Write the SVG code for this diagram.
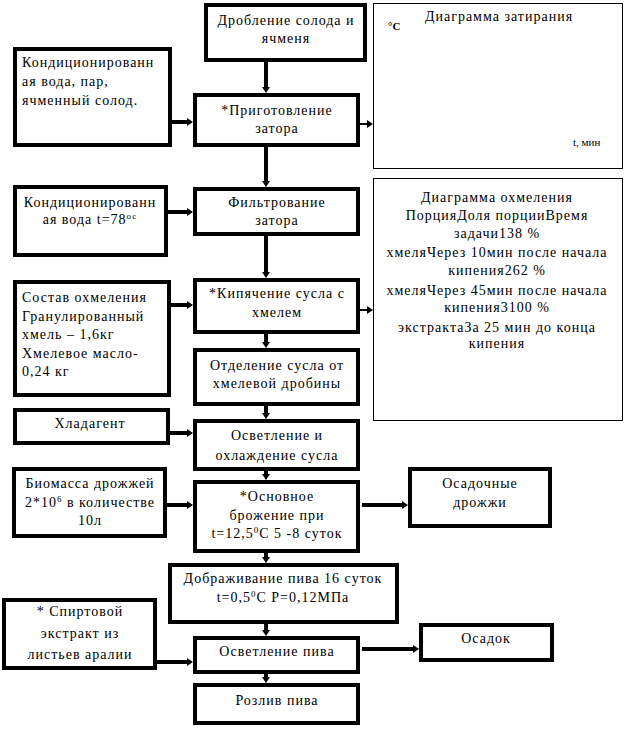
<svg xmlns="http://www.w3.org/2000/svg" width="628" height="734" viewBox="0 0 628 734">
<style>
.b{fill:#fff;stroke:#000;stroke-width:4}
.d{fill:#fff;stroke:#000;stroke-width:1}
text{font-family:"Liberation Serif","Times New Roman",serif;font-size:14px;letter-spacing:1px;fill:#000}
.c{text-anchor:middle}
.sup{font-size:9px}
.c1 line{stroke:#000;stroke-width:4}
.c1 line.t{stroke-width:2}
</style>
<defs>
<marker id="ah" viewBox="0 0 6 8" refX="0" refY="4" markerWidth="6" markerHeight="8" markerUnits="userSpaceOnUse" orient="auto">
<path d="M0,0 L6,4 L0,8 Z" fill="#000"/>
</marker>
</defs>
<rect width="628" height="734" fill="#fff"/>

<g id="connectors" class="c1">
<line x1="266" y1="62" x2="266" y2="87" marker-end="url(#ah)"/>
<line x1="266" y1="147" x2="266" y2="181" marker-end="url(#ah)"/>
<line x1="266" y1="236" x2="266" y2="272" marker-end="url(#ah)"/>
<line x1="266" y1="334" x2="266" y2="342" marker-end="url(#ah)"/>
<line x1="266" y1="406" x2="266" y2="413" marker-end="url(#ah)"/>
<line x1="266" y1="471" x2="266" y2="474" marker-end="url(#ah)"/>
<line x1="266" y1="553" x2="266" y2="557" marker-end="url(#ah)"/>
<line x1="266" y1="624" x2="266" y2="630" marker-end="url(#ah)"/>
<line x1="266" y1="674" x2="266" y2="677" marker-end="url(#ah)"/>
<line x1="172" y1="122" x2="187" y2="122" marker-end="url(#ah)"/>
<line class="t" x1="360" y1="124" x2="367" y2="124" marker-end="url(#ah)"/>
<line x1="168" y1="212" x2="187" y2="212" marker-end="url(#ah)"/>
<line x1="171" y1="305" x2="187" y2="305" marker-end="url(#ah)"/>
<line class="t" x1="360" y1="310" x2="367" y2="310" marker-end="url(#ah)"/>
<line x1="170" y1="433" x2="187" y2="433" marker-end="url(#ah)"/>
<line x1="167" y1="505" x2="187" y2="505" marker-end="url(#ah)"/>
<line x1="362" y1="505" x2="402" y2="505" marker-end="url(#ah)"/>
<line x1="157" y1="662" x2="187" y2="662" marker-end="url(#ah)"/>
<line x1="362" y1="649" x2="413" y2="649" marker-end="url(#ah)"/>
</g>

<g id="n1"><rect class="b" x="206" y="5" width="159" height="55"/>
<text class="c" x="286" y="25">Дробление солода и</text><text class="c" x="286" y="43">ячменя</text></g>

<g id="n2"><rect class="b" x="15" y="49" width="155" height="96"/>
<text x="22" y="67">Кондиционированн</text><text x="22" y="86">ая вода, пар,</text><text x="22" y="105">ячменный солод.</text></g>

<g id="n3"><rect class="b" x="195" y="95" width="163" height="50"/>
<text class="c" x="277" y="115">*Приготовление</text><text class="c" x="277" y="133">затора</text></g>

<g id="d1"><rect class="d" x="373.5" y="3.5" width="249" height="165"/>
<text class="c" x="499" y="21">Диаграмма затирания</text>
<text x="388" y="30" style="font-size:11px;font-weight:bold;letter-spacing:0">°C</text>
<text x="573" y="146" style="font-size:11px;letter-spacing:0">t, мин</text></g>

<g id="n4"><rect class="b" x="15" y="187" width="151" height="68"/>
<text class="c" x="90" y="207">Кондиционированн</text><text class="c" x="90" y="224">ая вода t=78<tspan class="sup" dy="-5">ос</tspan></text></g>

<g id="n5"><rect class="b" x="195" y="189" width="163" height="45"/>
<text class="c" x="277" y="207">Фильтрование</text><text class="c" x="277" y="225">затора</text></g>

<g id="n6"><rect class="b" x="15" y="282" width="154" height="113"/>
<text x="22" y="302">Состав охмеления</text><text x="22" y="321">Гранулированный</text><text x="22" y="339">хмель – 1,6кг</text><text x="22" y="358">Хмелевое масло-</text><text x="22" y="376">0,24 кг</text></g>

<g id="n7"><rect class="b" x="195" y="280" width="163" height="52"/>
<text class="c" x="277" y="298">*Кипячение сусла с</text><text class="c" x="277" y="317">хмелем</text></g>

<g id="n8"><rect class="b" x="195" y="350" width="163" height="54"/>
<text class="c" x="277" y="370">Отделение сусла от</text><text class="c" x="277" y="388">хмелевой дробины</text></g>

<g id="d2"><rect class="d" x="373.5" y="178.5" width="249" height="242"/>
<text class="c" x="497" y="202">Диаграмма охмеления</text>
<text class="c" x="497" y="220">ПорцияДоля порцииВремя</text>
<text class="c" x="497" y="238">задачи138 %</text>
<text class="c" x="497" y="257">хмеляЧерез 10мин после начала</text>
<text class="c" x="497" y="275">кипения262 %</text>
<text class="c" x="497" y="295">хмеляЧерез 45мин после начала</text>
<text class="c" x="497" y="312">кипения3100 %</text>
<text class="c" x="497" y="332">экстрактаЗа 25 мин до конца</text>
<text class="c" x="497" y="348">кипения</text></g>

<g id="n9"><rect class="b" x="15" y="410" width="153" height="33"/>
<text class="c" x="90" y="428">Хладагент</text></g>

<g id="n10"><rect class="b" x="195" y="421" width="163" height="48"/>
<text class="c" x="277" y="440">Осветление и</text><text class="c" x="277" y="460">охлаждение сусла</text></g>

<g id="n11"><rect class="b" x="14" y="469" width="151" height="67"/>
<text class="c" x="90" y="488">Биомасса дрожжей</text><text class="c" x="90" y="507">2*10<tspan class="sup" dy="-5">6</tspan><tspan dy="5"> в количестве</tspan></text><text class="c" x="90" y="525">10л</text></g>

<g id="n12"><rect class="b" x="195" y="482" width="163" height="69"/>
<text class="c" x="277" y="501">*Основное</text><text class="c" x="277" y="520">брожение при</text><text class="c" x="277" y="538">t=12,5<tspan class="sup" dy="-5">0</tspan><tspan dy="5">С 5 -8 суток</tspan></text></g>

<g id="n13"><rect class="b" x="410" y="469" width="140" height="57"/>
<text class="c" x="480" y="488">Осадочные</text><text class="c" x="480" y="507">дрожжи</text></g>

<g id="n14"><rect class="b" x="170" y="565" width="227" height="57"/>
<text class="c" x="283" y="583">Дображивание пива 16 суток</text><text class="c" x="283" y="602">t=0,5<tspan class="sup" dy="-5">0</tspan><tspan dy="5">С Р=0,12МПа</tspan></text></g>

<g id="n15"><rect class="b" x="4" y="600" width="151" height="68"/>
<text class="c" x="80" y="616">* Спиртовой</text><text class="c" x="80" y="638">экстракт из</text><text class="c" x="80" y="659">листьев аралии</text></g>

<g id="n16"><rect class="b" x="195" y="638" width="163" height="34"/>
<text class="c" x="277" y="656">Осветление пива</text></g>

<g id="n17"><rect class="b" x="421" y="625" width="131" height="35"/>
<text class="c" x="486" y="643">Осадок</text></g>

<g id="n18"><rect class="b" x="195" y="685" width="163" height="38"/>
<text class="c" x="277" y="705">Розлив пива</text></g>
</svg>
